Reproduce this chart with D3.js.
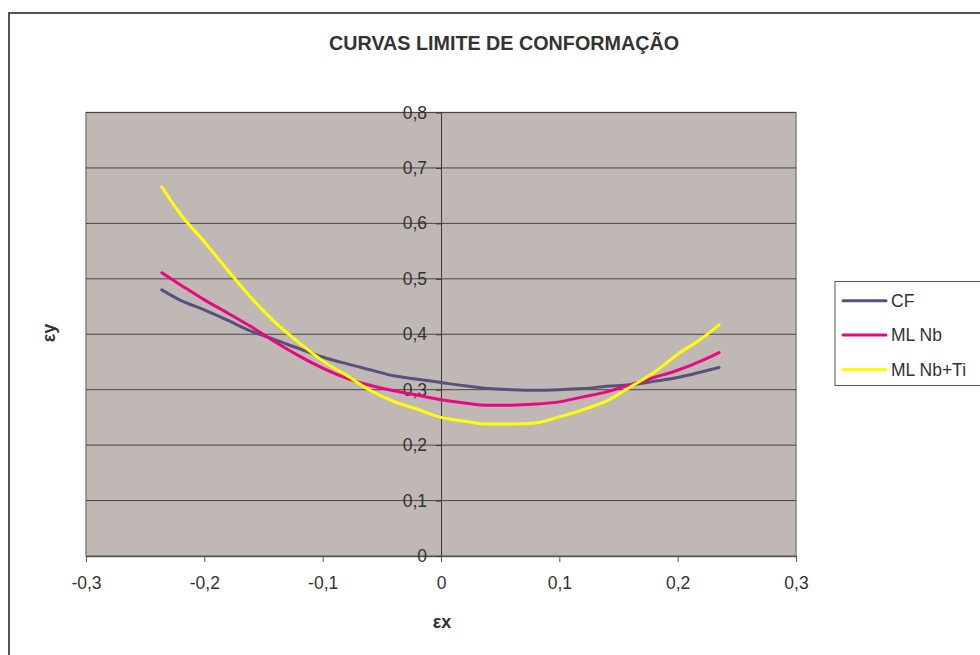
<!DOCTYPE html>
<html>
<head>
<meta charset="utf-8">
<script src="https://cdn.jsdelivr.net/npm/d3@7"></script>
<style>
  html, body { margin: 0; padding: 0; background: #fff; }
  svg { display: block; font-family: "Liberation Sans", Arial, sans-serif; }
</style>
</head>
<body>
<svg id="chart" width="980" height="655"></svg>
<script>
// Forming limit curves: major strain (εy) vs minor strain (εx)
const title = "CURVAS LIMITE DE CONFORMAÇÃO";
const xLabel = "εx";
const yLabel = "εy";

const exValues = [-0.236, -0.22, -0.20, -0.18, -0.16, -0.14, -0.12, -0.10, -0.08, -0.06, -0.04, -0.02,
                  0, 0.02, 0.04, 0.06, 0.08, 0.10, 0.12, 0.14, 0.16, 0.18, 0.20, 0.22, 0.235];

const seriesNames = ["CF", "ML Nb", "ML Nb+Ti"];
const cfValues = [0.480, 0.461, 0.444, 0.425, 0.405, 0.390, 0.374, 0.359, 0.347, 0.336, 0.325, 0.319,
                  0.313, 0.307, 0.302, 0.300, 0.299, 0.300, 0.302, 0.306, 0.309, 0.315, 0.322, 0.332, 0.340];
const mlNbValues = [0.511, 0.489, 0.462, 0.438, 0.413, 0.386, 0.361, 0.339, 0.321, 0.308, 0.298, 0.290,
                    0.282, 0.276, 0.272, 0.272, 0.274, 0.278, 0.287, 0.296, 0.309, 0.322, 0.335, 0.352, 0.367];
const mlNbTiValues = [0.666, 0.616, 0.567, 0.515, 0.465, 0.421, 0.385, 0.352, 0.326, 0.299, 0.279, 0.265,
                      0.250, 0.243, 0.238, 0.238, 0.240, 0.251, 0.264, 0.280, 0.305, 0.331, 0.364, 0.392, 0.417];
const seriesColors = ["#58517e", "#e8087f", "#ffff00"];

const xTicks = [-0.3, -0.2, -0.1, 0, 0.1, 0.2, 0.3];
const yTicks = [0, 0.1, 0.2, 0.3, 0.4, 0.5, 0.6, 0.7, 0.8];

const allSeries = [cfValues, mlNbValues, mlNbTiValues].map((vals, i) => ({
  name: seriesNames[i],
  color: seriesColors[i],
  points: vals.map((v, j) => ({ x: exValues[j], y: v }))
}));

const svg = d3.select("#chart");
const plot = { left: 86, right: 796, top: 112.5, bottom: 556 };

const x = d3.scaleLinear().domain([-0.3, 0.3]).range([plot.left, plot.right]);
const y = d3.scaleLinear().domain([0, 0.8]).range([plot.bottom, plot.top]);

const loc = d3.formatLocale({ decimal: ",", thousands: ".", grouping: [3], currency: ["", ""], minus: "-" });
const fmt = loc.format(".1~f");

const textColor = "#333";
const fontSize = 17.5;

// outer chart frame
svg.append("rect")
  .attr("x", 9).attr("y", 13)
  .attr("width", 1000).attr("height", 700)
  .attr("fill", "#fff").attr("stroke", "#555").attr("stroke-width", 2);

// title
svg.append("text")
  .attr("x", 504).attr("y", 50)
  .attr("text-anchor", "middle")
  .attr("font-size", 20).attr("font-weight", "bold")
  .attr("fill", textColor)
  .attr("textLength", 350).attr("lengthAdjust", "spacingAndGlyphs")
  .text(title);

// plot area
svg.append("rect")
  .attr("x", plot.left).attr("y", plot.top)
  .attr("width", plot.right - plot.left).attr("height", plot.bottom - plot.top)
  .attr("fill", "#c0b8b5").attr("stroke", "#8a8282").attr("stroke-width", 1.5);

// horizontal gridlines
svg.append("g")
  .selectAll("line")
  .data(yTicks.filter(d => d > 0))
  .join("line")
  .attr("x1", plot.left).attr("x2", plot.right)
  .attr("y1", d => y(d)).attr("y2", d => y(d))
  .attr("stroke", "#4a4446").attr("stroke-width", 1);

// x axis along the bottom
const xAxis = svg.append("g")
  .attr("transform", `translate(0,${plot.bottom})`)
  .call(d3.axisBottom(x).tickValues(xTicks).tickFormat(fmt).tickSize(6).tickSizeOuter(0));
xAxis.select(".domain").attr("stroke", "#555").attr("stroke-width", 1.5);
xAxis.selectAll(".tick line").attr("stroke", "#555");
xAxis.selectAll(".tick text")
  .attr("y", 33).attr("dy", null)
  .attr("font-size", fontSize).attr("fill", textColor)
  .attr("font-family", "Liberation Sans, Arial, sans-serif");

// y axis crossing at εx = 0
const yAxis = svg.append("g")
  .attr("transform", `translate(${x(0)},0)`)
  .call(d3.axisLeft(y).tickValues(yTicks).tickFormat(fmt).tickSize(5).tickSizeOuter(0).tickPadding(9));
yAxis.select(".domain").attr("stroke", "#3a3a3a").attr("stroke-width", 1);
yAxis.selectAll(".tick line").attr("stroke", "#3a3a3a");
yAxis.selectAll(".tick text")
  .attr("font-size", fontSize).attr("fill", textColor)
  .attr("font-family", "Liberation Sans, Arial, sans-serif");

// series curves
const line = d3.line().x(d => x(d.x)).y(d => y(d.y)).curve(d3.curveMonotoneX);
svg.append("g")
  .selectAll("path")
  .data(allSeries)
  .join("path")
  .attr("d", d => line(d.points))
  .attr("fill", "none")
  .attr("stroke", d => d.color)
  .attr("stroke-width", 3)
  .attr("stroke-linejoin", "round")
  .attr("stroke-linecap", "round");

// axis titles
svg.append("text")
  .attr("x", 442).attr("y", 628)
  .attr("text-anchor", "middle")
  .attr("font-size", 18).attr("font-weight", "bold").attr("fill", textColor)
  .text(xLabel);
svg.append("text")
  .attr("transform", "translate(55,333) rotate(-90)")
  .attr("text-anchor", "middle")
  .attr("font-size", 18).attr("font-weight", "bold").attr("fill", textColor)
  .text(yLabel);

// legend
const legend = svg.append("g");
legend.append("rect")
  .attr("x", 835).attr("y", 281.5)
  .attr("width", 200).attr("height", 104)
  .attr("fill", "#fff").attr("stroke", "#555").attr("stroke-width", 1);
const items = legend.selectAll("g.item")
  .data(allSeries)
  .join("g")
  .attr("class", "item")
  .attr("transform", (d, i) => `translate(0,${300.7 + i * 34.4})`);
items.append("line")
  .attr("x1", 843).attr("x2", 886)
  .attr("y1", 0).attr("y2", 0)
  .attr("stroke", d => d.color).attr("stroke-width", 3).attr("stroke-linecap", "round");
items.append("text")
  .attr("x", 891).attr("y", 6)
  .attr("font-size", fontSize).attr("fill", textColor)
  .text(d => d.name);
</script>
</body>
</html>
